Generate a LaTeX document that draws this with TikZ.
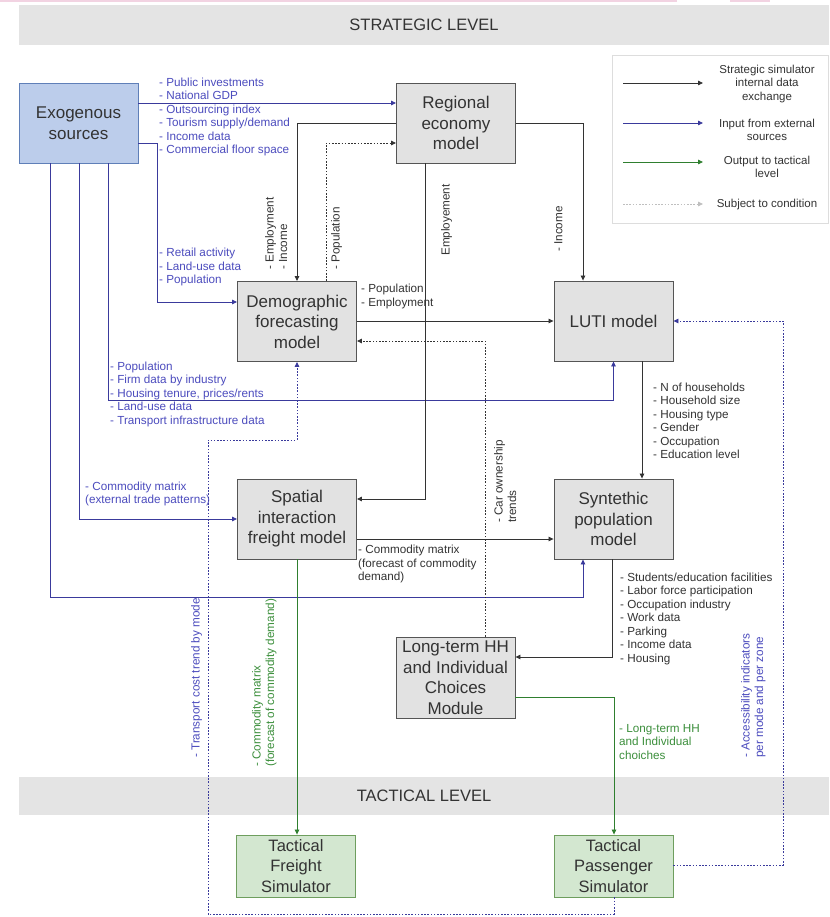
\documentclass[tikz,border=0pt]{standalone}
\usepackage{fontspec}
\setmainfont{Liberation Sans}
\usetikzlibrary{arrows.meta}

\definecolor{bandfill}{HTML}{E4E4E4}
\definecolor{boxfill}{HTML}{E2E2E2}
\definecolor{boxedge}{HTML}{555555}
\definecolor{exofill}{HTML}{BCCDEB}
\definecolor{exoedge}{HTML}{5F7FB8}
\definecolor{tacfill}{HTML}{D3E7D0}
\definecolor{tacedge}{HTML}{6E9E5E}
\definecolor{txt}{HTML}{333333}
\definecolor{linedark}{HTML}{333333}
\definecolor{lineblue}{HTML}{3A3A9C}
\definecolor{txtblue}{HTML}{4C4CBE}
\definecolor{linegreen}{HTML}{2F7F2F}
\definecolor{txtgreen}{HTML}{3C8F3C}
\definecolor{legedge}{HTML}{DDDDDD}
\definecolor{pinkline}{HTML}{F2D3E2}

\begin{document}
\begin{tikzpicture}[x=1pt,y=-1pt,
  box/.style={draw=boxedge, fill=boxfill, line width=0.9pt,
    minimum width=119pt, minimum height=80pt, inner sep=0pt,
    align=center, text=txt, font=\fontsize{17}{20.5}\selectfont},
  exobox/.style={box, draw=exoedge, fill=exofill},
  tacbox/.style={box, draw=tacedge, fill=tacfill, minimum height=62pt,
    font=\fontsize{16.5}{20.5}\selectfont},
  band/.style={fill=bandfill, draw=none},
  bandtext/.style={text=txt, font=\fontsize{16.5}{19}\selectfont, inner sep=0pt},
  tip/.style={-{Triangle[length=5pt,width=4.5pt]}},
  bk/.style={draw=linedark, line width=0.8pt, tip},
  ex/.style={draw=lineblue, line width=0.8pt, tip},
  gr/.style={draw=linegreen, line width=0.8pt, tip},
  dt/.style={draw=linedark, line width=0.8pt, dash pattern=on 1.6pt off 1.6pt, tip},
  bdt/.style={draw=lineblue, line width=0.8pt, dash pattern=on 1.6pt off 1.6pt, tip},
  lgdt/.style={draw=black!25, line width=0.8pt, dash pattern=on 1.6pt off 1.6pt,
    -{Triangle[length=5pt,width=4.5pt]}},
  lbl/.style={font=\fontsize{11.7}{13.5}\selectfont, align=left, inner sep=0pt, text=txt},
  blbl/.style={lbl, text=txtblue},
  glbl/.style={lbl, text=txtgreen},
  legtxt/.style={font=\fontsize{11.5}{13.5}\selectfont, align=center, inner sep=0pt, text=txt}
]
\useasboundingbox (0,0) rectangle (829,917);
\fill[white] (0,0) rectangle (829,917);

% thin top rule
\fill[pinkline] (0,0) rectangle (677,2.5);
\fill[pinkline] (730,0) rectangle (770,2.5);

% level bands
\fill[band] (19,5) rectangle (829,45);
\node[bandtext] (strat) at (424,25) {STRATEGIC LEVEL};
\fill[band] (19,777) rectangle (829,815);
\node[bandtext] (tact) at (424,796) {TACTICAL LEVEL};

% legend
\node[draw=legedge, fill=white, line width=0.6pt, minimum width=216pt,
      minimum height=168pt, inner sep=0pt] (legend) at (720,139) {};
\coordinate (lga1) at (623,83);  \coordinate (lgb1) at (703,83);
\coordinate (lga2) at (623,123); \coordinate (lgb2) at (703,123);
\coordinate (lga3) at (623,162); \coordinate (lgb3) at (703,162);
\coordinate (lga4) at (623,204); \coordinate (lgb4) at (703,204);
\draw[bk] (lga1) -- (lgb1);
\draw[ex] (lga2) -- (lgb2);
\draw[gr] (lga3) -- (lgb3);
\draw[lgdt] (lga4) -- (lgb4);
\node[legtxt] (lgt1) at (767,84) {Strategic simulator\\internal data\\exchange};
\node[legtxt] (lgt2) at (767,130) {Input from external\\sources};
\node[legtxt] (lgt3) at (767,167) {Output to tactical\\level};
\node[legtxt] (lgt4) at (767,205) {Subject to condition};

% model blocks
\node[exobox] (exo)  at (78.5,123)  {Exogenous\\sources};
\node[box]    (reg)  at (456,123)   {Regional\\economy\\model};
\node[box]    (demo) at (297,321.5) {Demographic\\forecasting\\model};
\node[box]    (luti) at (613.5,321) {LUTI model};
\node[box]    (spat) at (297,519)   {Spatial\\interaction\\freight model};
\node[box]    (syn)  at (613.5,519) {Syntethic\\population\\model};
\node[box, minimum height=81pt] (lt) at (455.5,677.5) {Long-term HH\\and Individual\\Choices\\Module};
\node[tacbox] (tf) at (296,866)   {Tactical\\Freight\\Simulator};
\node[tacbox] (tp) at (613.5,866) {Tactical\\Passenger\\Simulator};

% external inputs
\draw[ex] (exo.east |- 0,103) -- (reg.west |- 0,103);
\node[blbl, anchor=west] (l1) at (159,117)
  {- Public investments\\- National GDP\\- Outsourcing index\\- Tourism supply/demand\\- Income data\\- Commercial floor space};

\draw[ex] (exo.east |- 0,143) -| (157,302) -- (demo.west |- 0,302);
\node[blbl, anchor=west] (l2) at (159,267)
  {- Retail activity\\- Land-use data\\- Population};

\draw[ex] (exo.south -| 108,0) |- (luti.south |- 0,400) -- (luti.south);
\node[blbl, anchor=west] (l3) at (110,394)
  {- Population\\- Firm data by industry\\- Housing tenure, prices/rents\\- Land-use data\\- Transport infrastructure data};

\draw[ex] (exo.south -| 79,0) |- (spat.west);
\node[blbl, anchor=west] (l4) at (85,494)
  {- Commodity matrix\\(external trade patterns)};

\draw[ex] (exo.south -| 50,0) |- (583,597) -- (syn.south -| 583,0);

% internal exchange
\draw[bk] (reg.west |- 0,123) -| (demo.north);
\node[lbl, rotate=90, anchor=north west] (l5) at (265,270) {- Employment\\- Income};

\draw[dt] (demo.north -| 326,0) |- (reg.west |- 0,143);
\node[lbl, rotate=90, anchor=north west] (l6) at (331,270) {- Population};

\draw[bk] (reg.south -| 425,0) |- (spat.east |- 0,499);
\node[lbl, rotate=90, anchor=north west] (l7) at (441,256) {Employement};

\draw[bk] (reg.east |- 0,123) -| (luti.north -| 583,0);
\node[lbl, rotate=90, anchor=north west] (l8) at (554,252) {- Income};

\draw[bk] (demo.east |- 0,321) -- (luti.west |- 0,321);
\node[lbl, anchor=west] (l9) at (361,296.5) {- Population\\- Employment};

\draw[bk] (luti.south -| 642,0) -- (syn.north -| 642,0);
\node[lbl, anchor=west] (l10) at (653,421)
  {- N of households\\- Household size\\- Housing type\\- Gender\\- Occupation\\- Education level};

\draw[bk] (spat.east |- 0,539) -- (syn.west |- 0,539);
\node[lbl, anchor=west] (l11) at (358,564)
  {- Commodity matrix\\(forecast of commodity\\demand)};

\draw[bk] (syn.south -| 612,0) |- (lt.east |- 0,657);
\node[lbl, anchor=west] (l12) at (620,618.5)
  {- Students/education facilities\\- Labor force participation\\- Occupation industry\\- Work data\\- Parking\\- Income data\\- Housing};

\draw[dt] (lt.north -| 485,0) |- (demo.east |- 0,341);
\node[lbl, rotate=90, anchor=north west] (l13) at (494,523) {- Car ownership\\trends};

% outputs to the tactical level
\draw[gr] (spat.south -| 297,0) -- (tf.north -| 297,0);
\node[glbl, rotate=90, anchor=north west] (l14) at (252,767)
  {- Commodity matrix\\(forecast of commodity demand)};

\draw[gr] (lt.east |- 0,697) -| (tp.north -| 614,0);
\node[glbl, anchor=west] (l15) at (619,742) {- Long-term HH\\and Individual\\choiches};

% feedback from the tactical level
\draw[bdt] (tp.south -| 614,0) -- (614,914) -| (208,440) -| (demo.south);
\node[blbl, rotate=90, anchor=north west] (l16) at (191,758) {- Transport cost trend by mode};

\draw[bdt] (tp.east |- 0,865) -| (783,321) -- (luti.east);
\node[blbl, rotate=90, anchor=north west] (l17) at (741,758)
  {- Accessibility indicators\\per mode and per zone};
\end{tikzpicture}
\end{document}
